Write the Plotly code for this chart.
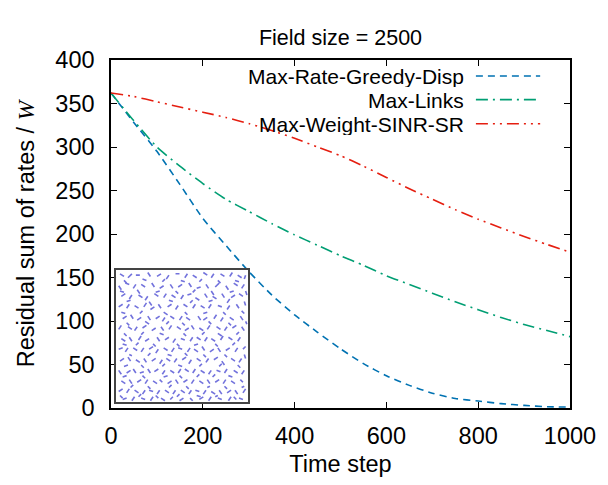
import plotly.graph_objects as go

# ---- data ----
time_steps = [0, 50, 100, 150, 200, 250, 300, 350, 400, 450, 500, 550, 600, 650, 700, 750, 800, 850, 900, 950, 1000]
max_rate_greedy_disp = [362, 328, 295, 257, 218, 187, 157, 130, 107, 87, 68, 51, 37, 26, 17, 11, 8, 5, 3, 1.5, 1]
max_links = [362, 330, 300, 278, 258, 240, 226, 212, 199, 187, 175, 164, 152, 142, 132, 122, 113, 104, 96, 89, 82]
max_weight_sinr_sr = [362, 358, 352, 346, 340, 334, 327, 319, 310, 300, 290, 278, 265, 252, 240, 228, 217, 207, 197, 188, 179]

series_names = ["Max-Rate-Greedy-Disp", "Max-Links", "Max-Weight-SINR-SR"]
series_values = [max_rate_greedy_disp, max_links, max_weight_sinr_sr]
series_colors = ["#0072b2", "#009e73", "#e51e10"]
series_dash = ["7px,5px", "12px,5px,2px,5px", "12px,5px,2px,5px,2px,5px"]

x_ticks = [0, 200, 400, 600, 800, 1000]
y_ticks = [0, 50, 100, 150, 200, 250, 300, 350, 400]

# inset: links of the network field (x0, y0, x1, y1) in percent of field side
links = [
    (3,97,6,95),(9,94,12,97),(15,96,18,96),(24,98,26,95),(31,95,34,97),(38,93,40,96),(45,97,48,97),(52,94,54,97),(58,96,61,94),(66,98,69,96),(72,94,74,97),(79,97,82,95),(86,95,88,98),(92,96,95,94),(97,93,98,96),
    (2,88,4,85),(7,90,10,89),(13,86,15,89),(19,89,22,87),(27,90,29,87),(33,86,36,88),(41,89,43,86),(47,87,50,89),(55,90,57,87),(61,86,64,87),(68,89,70,86),(75,87,78,90),(83,88,85,85),(89,90,92,88),(95,86,97,89),
    (4,80,7,82),(10,78,12,81),(17,81,20,79),(22,77,24,80),(29,82,32,80),(36,79,38,82),(42,81,45,79),(49,78,51,81),(54,81,57,82),(60,79,63,77),(67,82,69,79),(73,80,76,78),(80,82,82,79),(87,79,90,81),(93,82,96,80),
    (2,72,5,74),(8,71,10,74),(14,73,17,71),(21,72,23,75),(26,70,29,72),(32,74,34,71),(39,72,42,74),(45,70,47,73),(51,74,54,72),(58,71,60,74),(64,73,67,71),(70,71,72,74),(77,73,80,72),(84,70,86,73),(91,74,93,71),
    (5,63,8,65),(11,66,13,63),(16,62,19,64),(24,65,26,62),(30,63,33,65),(35,61,37,64),(41,65,44,63),(48,62,50,65),(53,64,56,62),(62,65,64,62),(66,62,69,64),(74,63,76,66),(79,61,81,64),(86,64,89,62),(94,65,96,62),
    (2,55,4,58),(9,57,12,55),(14,54,16,57),(20,56,23,58),(27,54,30,56),(34,57,36,54),(40,55,42,58),(46,57,49,55),(52,54,55,56),(57,58,59,55),(63,56,66,54),(69,55,71,58),(76,57,79,55),(82,54,84,57),(88,56,91,58),(95,57,97,54),
    (4,48,7,46),(10,49,12,46),(17,47,19,50),(22,46,25,48),(31,49,33,46),(37,47,40,49),(43,45,45,48),(49,48,52,47),(56,46,58,49),(61,49,64,47),(67,46,69,49),(72,48,75,46),(79,47,81,50),(85,49,88,47),(92,46,94,49),
    (2,40,5,41),(7,38,9,41),(13,41,16,39),(19,38,21,41),(25,40,28,42),(30,37,32,40),(36,41,39,39),(42,38,44,41),(47,41,50,40),(54,38,56,41),(59,40,62,38),(65,42,67,39),(71,38,74,40),(77,41,79,38),(83,39,86,41),(90,38,92,41),(96,40,98,42),
    (3,31,6,33),(9,34,11,31),(15,32,18,30),(21,33,23,30),(27,31,30,33),(33,29,35,32),(38,33,41,31),(44,30,46,33),(50,32,53,34),(55,29,57,32),(61,33,64,31),(68,30,70,33),(74,32,77,34),(80,31,82,28),(87,33,90,31),(93,30,95,33),
    (2,24,4,21),(8,22,11,24),(13,25,15,22),(18,22,21,23),(24,25,26,22),(29,23,32,25),(35,21,37,24),(41,24,44,22),(47,22,49,25),(52,25,55,23),(58,22,60,25),(64,24,67,22),(70,21,72,24),(76,24,79,23),(82,22,84,25),(89,24,92,22),(95,21,97,24),
    (4,16,7,14),(10,17,12,14),(16,15,19,17),(22,14,24,17),(28,16,31,14),(33,17,35,15),(39,14,42,16),(45,17,47,14),(51,15,54,17),(57,14,59,17),(63,16,66,14),(69,17,71,14),(75,15,78,17),(81,14,83,17),(87,16,90,14),(94,17,96,15),
    (2,8,5,10),(8,7,10,10),(14,9,17,7),(20,6,22,9),(25,9,28,8),(31,6,33,9),(37,9,40,7),(43,6,45,9),(49,9,52,7),(55,6,57,9),(60,9,63,8),(66,6,68,9),(72,8,75,6),(78,9,80,6),(84,7,87,9),(90,9,92,6),(96,7,98,10),
    (5,2,8,3),(12,1,14,4),(19,3,22,2),(26,1,28,4),(34,3,37,1),(41,2,43,4),(48,1,51,3),(56,3,58,1),(63,2,66,4),(70,1,72,4),(77,3,80,2),(85,1,87,4),(93,3,96,2),
    (6,92,8,90),(20,93,23,92),(35,91,37,93),(49,92,52,91),(63,91,65,93),(77,92,79,90),(90,92,93,91),
    (3,84,6,83),(16,85,18,82),(30,83,33,84),(45,84,47,82),(58,83,60,85),(72,84,74,81),(86,83,89,84),(98,84,99,81),
    (8,76,11,77),(25,76,27,73),(40,77,43,76),(56,75,58,77),(70,76,73,77),(84,75,86,78),(97,76,98,73),
    (4,68,7,67),(18,67,20,69),(36,68,39,66),(52,68,54,66),(66,67,69,68),(81,68,83,66),(95,69,97,67),
    (8,60,10,58),(22,61,25,59),(38,59,40,61),(50,60,52,58),(70,61,72,59),(85,60,87,58),(98,61,99,59),
    (6,52,8,50),(19,51,21,53),(33,52,36,51),(51,52,53,50),(65,51,67,53),(77,52,80,50),(91,51,93,53),
    (5,44,8,43),(15,43,17,45),(28,44,30,42),(46,44,48,42),(59,43,62,44),(75,44,77,42),(88,43,90,45),
    (10,36,12,35),(24,35,26,37),(39,36,42,35),(52,37,54,35),(66,36,68,34),(82,36,84,34),(97,36,98,33),
    (6,27,9,28),(19,28,21,26),(35,27,37,29),(47,28,50,27),(63,27,65,29),(78,27,80,29),(92,28,94,26),
    (5,19,8,20),(20,20,22,18),(36,19,39,20),(48,20,50,18),(61,19,63,21),(73,19,75,21),(85,20,88,19),
    (11,11,13,13),(24,12,26,10),(40,11,42,13),(53,12,55,10),(69,11,71,12),(82,12,84,10),(95,11,97,12),
    (3,5,5,3),(17,4,19,6),(30,5,32,3),(46,4,48,6),(61,5,64,4),(75,4,77,5),(89,4,91,2),
]

FONT = "Liberation Sans, Arial, sans-serif"
FS = 23.5
LEG_FS = 21

fig = go.Figure()
for name, vals, col, dash in zip(series_names, series_values, series_colors, series_dash):
    fig.add_trace(go.Scatter(
        x=time_steps, y=vals, mode="lines", name=name,
        line=dict(color=col, width=1.6, dash=dash, shape="spline", smoothing=0.6),
        showlegend=False, xaxis="x", yaxis="y",
    ))

# inset links
lx, ly = [], []
for x0, y0, x1, y1 in links:
    lx += [x0, x1, None]
    ly += [y0, y1, None]
fig.add_trace(go.Scatter(x=lx, y=ly, mode="lines", line=dict(color="#7272dc", width=1.6),
                         showlegend=False, xaxis="x2", yaxis="y2", hoverinfo="skip"))

# legend (text right-aligned, sample line on the right, gnuplot style)
leg_y = [0.954, 0.886, 0.817]
for name, col, dash, yy in zip(series_names, series_colors, series_dash, leg_y):
    fig.add_annotation(x=0.772, y=yy, xref="paper", yref="paper", text=name, showarrow=False,
                       xanchor="right", yanchor="middle", borderpad=0, height=22,
                       font=dict(family=FONT, size=LEG_FS, color="black"))
    fig.add_shape(type="line", xref="paper", yref="paper", x0=0.795, x1=0.935, y0=yy, y1=yy,
                  line=dict(color=col, width=1.6, dash=dash))

axis_common = dict(showline=True, linecolor="black", linewidth=1.5, mirror="ticks",
                   ticks="inside", ticklen=6, tickcolor="black", tickwidth=1.2,
                   showgrid=False, zeroline=False,
                   tickfont=dict(family=FONT, size=FS, color="black"))

fig.update_layout(
    width=608, height=485,
    margin=dict(l=111, r=35, t=60, b=75),
    paper_bgcolor="white", plot_bgcolor="white",
    title=dict(text="Field size = 2500", x=0.5, xref="paper", y=1 - 37 / 485, yanchor="middle",
               xanchor="center", font=dict(family=FONT, size=21.5, color="black")),
    xaxis=dict(range=[0, 1000], tickvals=x_ticks, ticklabelstandoff=6,
               title=dict(text="Time step", font=dict(family=FONT, size=FS, color="black"), standoff=8),
               **axis_common),
    yaxis=dict(range=[0, 400], tickvals=y_ticks, ticklabelstandoff=10,
               title=dict(text="Residual sum of rates / <i><span style='font-family:Liberation Serif'>W</span></i>",
                          font=dict(family=FONT, size=FS, color="black"), standoff=14),
               **axis_common),
    xaxis2=dict(domain=[0.011, 0.299], anchor="y2", range=[0, 100], showline=True, mirror=True,
                linecolor="#444444", linewidth=1.5, showticklabels=False, ticks="",
                showgrid=False, zeroline=False),
    yaxis2=dict(domain=[0.017, 0.397], anchor="x2", range=[0, 100], showline=True, mirror=True,
                linecolor="#444444", linewidth=1.5, showticklabels=False, ticks="",
                showgrid=False, zeroline=False),
)

fig.write_html("out.html", config={"displayModeBar": False},
               post_script="document.body.style.margin='0';")
